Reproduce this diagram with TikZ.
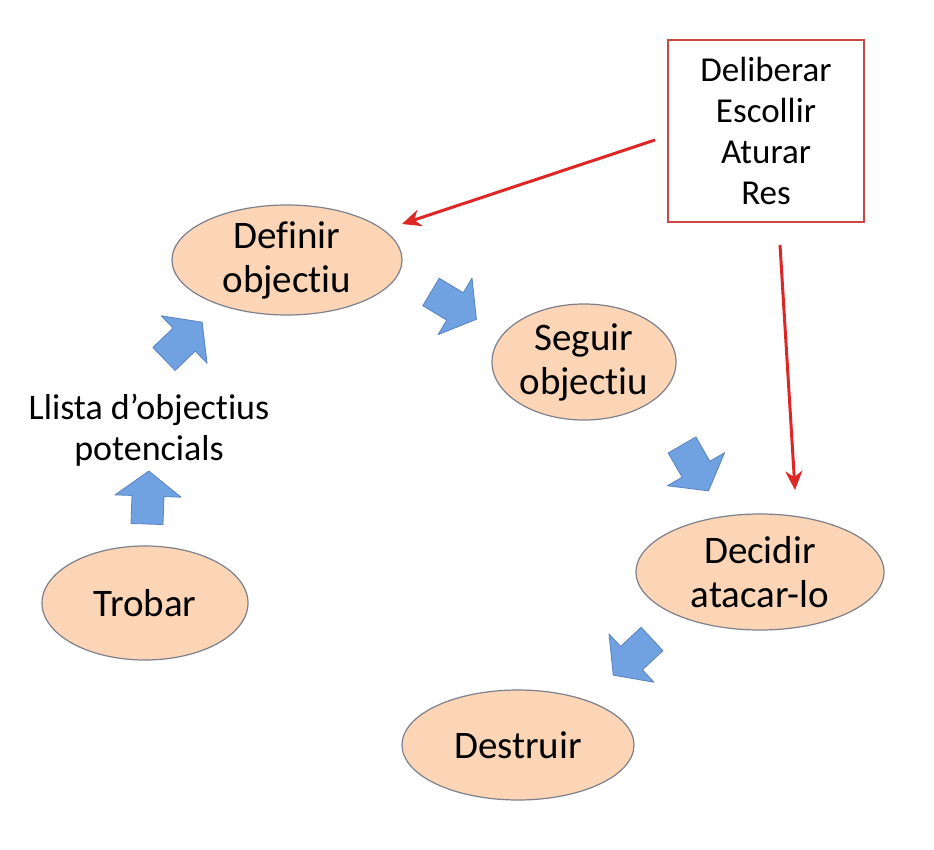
\documentclass[tikz,border=0pt]{standalone}
\usepackage{fontspec}
\setmainfont[Ligatures=NoCommon]{Carlito}
\usetikzlibrary{shapes.geometric,arrows.meta}
\definecolor{peach}{RGB}{251,213,181}
\definecolor{ellborder}{RGB}{125,128,140}
\definecolor{bluefill}{RGB}{112,162,226}
\definecolor{blueedge}{RGB}{88,130,192}
\definecolor{redline}{RGB}{222,38,38}
\definecolor{redbox}{RGB}{205,70,70}
\tikzset{
  stage/.style={ellipse, draw=ellborder, line width=1.2pt, fill=peach, inner xsep=0pt, inner ysep=-6pt, align=center,
    font=\fontsize{39}{44}\selectfont},
  plain/.style={align=center, inner sep=0pt, font=\fontsize{36}{41}\selectfont},
  optbox/.style={draw=redbox, line width=1.5pt, align=center, inner sep=0pt,
    font=\fontsize{35}{41}\selectfont},
  redarrow/.style={draw=redline, line width=3pt, -{Stealth[length=19pt,width=17pt]}},
  blockarrow/.style={fill=bluefill, draw=blueedge, line width=0.8pt, line join=round},
}
\newcommand{\blockarr}[3]{%
  \begin{scope}[shift={(#1,#2)}, rotate=#3]
    \path[blockarrow] (0,-16) -- (28,-16) -- (28,-33) -- (53,0) -- (28,33) -- (28,16) -- (0,16) -- cycle;
  \end{scope}}
\begin{document}
\begin{tikzpicture}[x=1pt,y=-1pt]
\useasboundingbox (0,0) rectangle (934,850);
\node[stage, minimum width=230pt, minimum height=110pt] (def) at (287,260) {Definir\\objectiu};
\node[stage, minimum width=184pt, minimum height=116pt] (seg) at (584,362) {Seguir\\objectiu};
\node[stage, minimum width=248pt, minimum height=116pt] (dec) at (760,572) {Decidir\\atacar-lo};
\node[stage, minimum width=232pt, minimum height=110pt] (des) at (518,745) {Destruir};
\node[stage, minimum width=206pt, minimum height=114pt] (tro) at (145,603) {Trobar};
\node[plain] (llista) at (149,430) {Llista d’objectius\\potencials};
\node[optbox, minimum width=196pt, minimum height=182pt] (opts) at (766,131) {Deliberar\\Escollir\\Aturar\\Res};
% block arrows
\blockarr{147}{524}{88}
\blockarr{164}{359}{44}
\blockarr{431}{292}{-31}
\blockarr{682}{445}{-60}
\blockarr{652}{639}{-137}
% red connectors
\coordinate (r1s) at (655,140);
\coordinate (r1e) at (402,224);
\coordinate (r2s) at (780,245);
\coordinate (r2e) at (795,490);
\draw[redarrow] (r1s) -- (r1e);
\draw[redarrow] (r2s) -- (r2e);
\end{tikzpicture}
\end{document}
